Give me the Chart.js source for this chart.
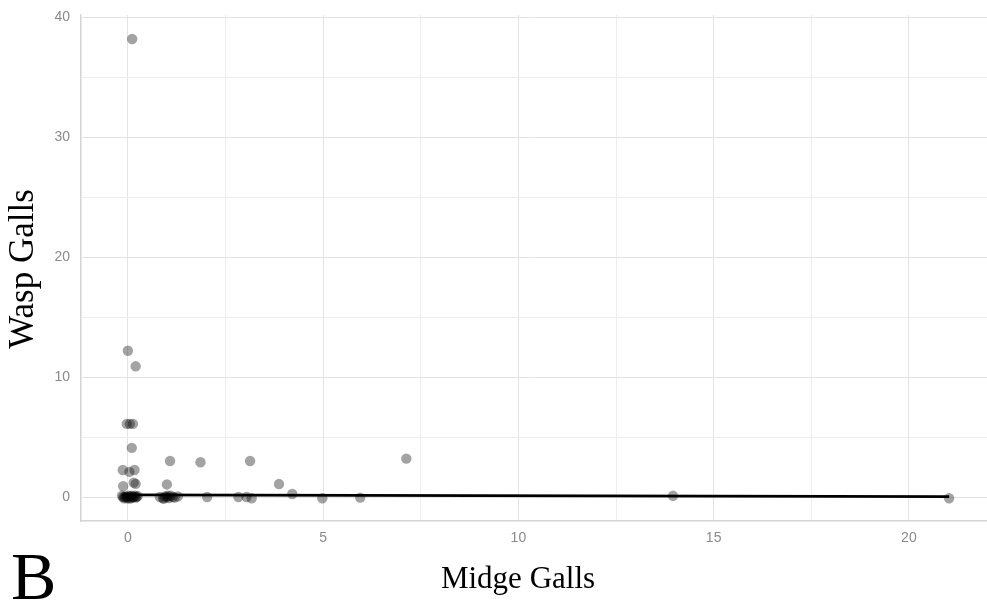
<!DOCTYPE html>
<html>
<head>
<meta charset="utf-8">
<script src="https://cdn.jsdelivr.net/npm/chart.js@4.4.1/dist/chart.umd.min.js"></script>
<style>
  html, body { margin: 0; padding: 0; background: #fff; }
  #wrap { width: 987px; height: 603px; position: relative; }
</style>
</head>
<body>
<div id="wrap"><canvas id="galls" width="987" height="603"></canvas></div>
<script>
// midge galls (x) and wasp galls (y) per plant
const midge = [
  0.11, 0.0, 0.2, -0.03, 0.05, 0.13, 0.1,
  -0.13, 0.04, 0.17, -0.12, 0.15, 0.2,
  1.08, 1.86, 3.13, 7.13, 1.0, 3.87,
  -0.15, -0.1, -0.05, 0.0, 0.05, 0.1, 0.15, 0.2, 0.25,
  -0.12, 0.02, 0.08, 0.18, -0.08, 0.12, -0.02, 0.22, 0.06,
  0.82, 0.9, 0.95, 1.0, 1.05, 1.1, 1.15, 1.2, 1.28, 0.92, 1.02,
  2.03, 2.83, 3.04, 3.17, 4.21, 4.98, 5.95, 13.96, 21.03
]
const wasp = [
  38.2, 12.2, 10.9, 6.1, 6.1, 6.1, 4.1,
  2.25, 2.1, 2.25, 0.9, 1.2, 1.1,
  3.0, 2.9, 3.0, 3.2, 1.05, 1.08,
  0.1, -0.1, 0.05, 0.0, -0.12, 0.1, 0.0, -0.05, 0.08,
  0.0, 0.12, -0.08, 0.1, 0.0, 0.0, -0.1, 0.0, 0.05,
  0.0, -0.1, 0.05, 0.0, -0.08, 0.1, 0.0, -0.05, 0.05, -0.12, 0.1,
  0.0, 0.0, 0.0, -0.1, 0.25, -0.1, -0.05, 0.1, -0.1
]

// fitted linear trend, ends of the fitted range
const fitX = [-0.15, 21.03]
const fitY = [0.18, 0.03]

// grid lines (major + minor) and labelled ticks
const xGrid = [0, 2.5, 5, 7.5, 10, 12.5, 15, 17.5, 20]
const xLabels = [0, 5, 10, 15, 20]
const yGrid = [0, 5, 10, 15, 20, 25, 30, 35, 40]
const yLabels = [0, 10, 20, 30, 40]

const points = midge.map((x, i) => ({ x: x, y: wasp[i] }))
const fit = fitX.map((x, i) => ({ x: x, y: fitY[i] }))

const gridColor = (labels) => (ctx) =>
  ctx.tick && labels.includes(ctx.tick.value) ? '#e4e4e4' : '#eeeeee'

const titles = {
  id: 'titles',
  afterDraw (chart) {
    const ctx = chart.ctx
    ctx.save()
    ctx.fillStyle = '#000'
    ctx.font = '35px "Liberation Serif", "Times New Roman", serif'
    ctx.textAlign = 'center'
    ctx.textBaseline = 'middle'
    ctx.translate(24, 269)
    ctx.rotate(-Math.PI / 2)
    ctx.fillText('Wasp Galls', 0, 0)
    ctx.restore()

    ctx.save()
    ctx.fillStyle = '#000'
    ctx.font = '31px "Liberation Serif", "Times New Roman", serif'
    ctx.textAlign = 'center'
    ctx.textBaseline = 'alphabetic'
    ctx.fillText('Midge Galls', 518, 588)
    ctx.font = '68px "Liberation Serif", "Times New Roman", serif'
    ctx.textAlign = 'left'
    ctx.fillText('B', 11, 599)
    ctx.restore()
  }
}

const tickFont = { family: '"Liberation Sans", Arial, sans-serif', size: 14 }

new Chart(document.getElementById('galls'), {
  type: 'scatter',
  data: {
    datasets: [
      {
        data: fit,
        showLine: true,
        borderColor: '#000',
        borderWidth: 2.6,
        pointRadius: 0,
        order: 0
      },
      {
        data: points,
        backgroundColor: 'rgba(0, 0, 0, 0.36)',
        borderWidth: 0,
        pointRadius: 5.2,
        order: 1
      }
    ]
  },
  options: {
    responsive: false,
    animation: false,
    layout: { autoPadding: false, padding: { top: 15, right: 0, left: 0, bottom: 0 } },
    plugins: {
      legend: { display: false },
      tooltip: { enabled: false }
    },
    scales: {
      x: {
        type: 'linear',
        min: -1.2,
        max: 22,
        afterBuildTicks: (s) => { s.ticks = xGrid.map(v => ({ value: v })) },
        afterFit: (s) => {
          s.height = 82
          s.paddingLeft = 0
          s.paddingRight = 0
        },
        border: { display: true, color: '#d4d4d4', width: 1.5 },
        grid: { color: gridColor(xLabels), lineWidth: 1, drawTicks: false },
        ticks: {
          autoSkip: false,
          maxRotation: 0,
          padding: 9,
          color: '#8a8a8a',
          font: tickFont,
          callback: (v) => xLabels.includes(v) ? String(v) : ''
        }
      },
      y: {
        type: 'linear',
        min: -2,
        max: 40.2,
        afterBuildTicks: (s) => { s.ticks = yGrid.map(v => ({ value: v })) },
        afterFit: (s) => {
          s.width = 81
          s.paddingTop = 0
          s.paddingBottom = 0
        },
        border: { display: true, color: '#d4d4d4', width: 1.5 },
        grid: { color: gridColor(yLabels), lineWidth: 1, drawTicks: false },
        ticks: {
          autoSkip: false,
          padding: 11,
          color: '#8a8a8a',
          font: tickFont,
          callback: (v) => yLabels.includes(v) ? String(v) : ''
        }
      }
    }
  },
  plugins: [titles]
})
</script>
</body>
</html>
